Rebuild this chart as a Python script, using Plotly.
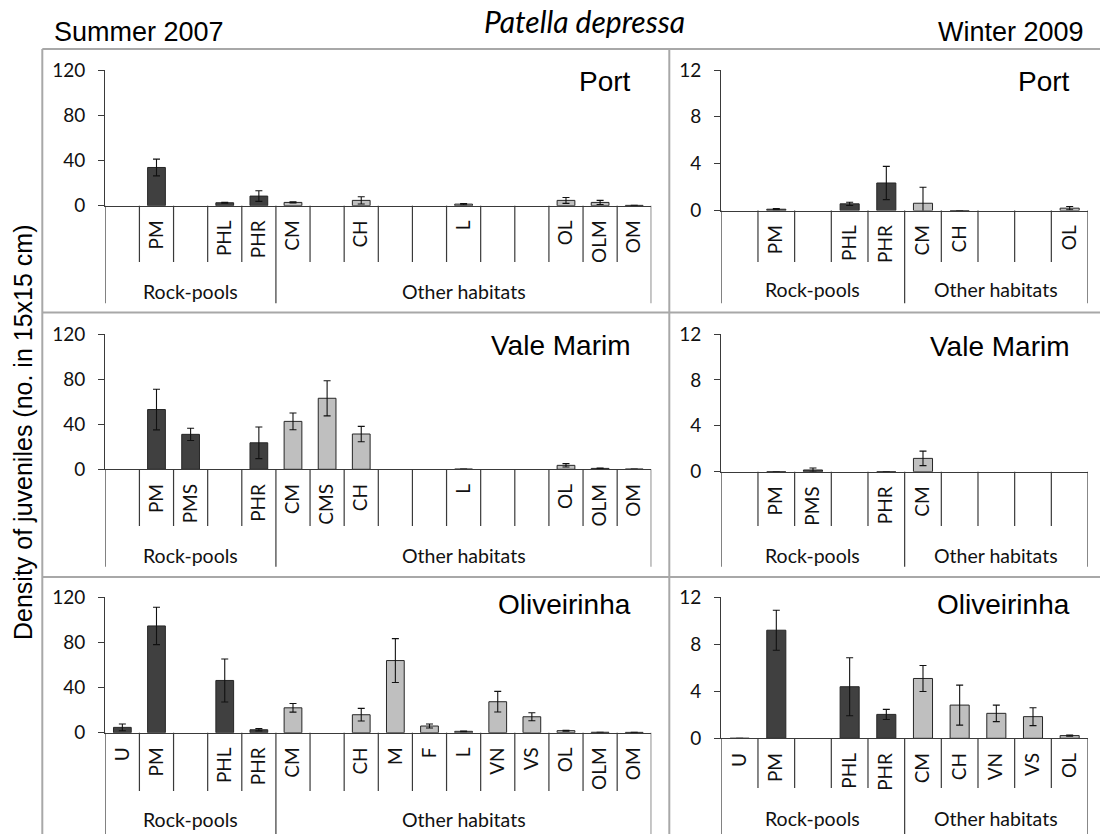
import plotly.graph_objects as go

W, H = 1100, 834

# ---------------- data ----------------
summer_port_labels = ["", "PM", "", "PHL", "PHR", "CM", "", "CH", "", "", "L", "", "", "OL", "OLM", "OM"]
summer_port_values = [None, 33.8, None, 2.6, 8.5, 2.9, None, 4.7, None, None, 1.4, None, None, 4.7, 2.9, 0.3]
summer_port_errors = [None, 7.4, None, 0.4, 4.7, 0.5, None, 3.2, None, None, 0.5, None, None, 2.6, 1.8, 0.0]

summer_vale_labels = ["", "PM", "PMS", "", "PHR", "CM", "CMS", "CH", "", "", "L", "", "", "OL", "OLM", "OM"]
summer_vale_values = [None, 53.0, 31.0, None, 23.5, 42.5, 63.0, 31.3, None, None, 0.2, None, None, 3.5, 0.8, 0.2]
summer_vale_errors = [None, 18.0, 5.4, None, 14.0, 7.4, 15.6, 6.8, None, None, 0.0, None, None, 1.5, 0.3, 0.0]

summer_oliv_labels = ["U", "PM", "", "PHL", "PHR", "CM", "", "CH", "M", "F", "L", "VN", "VS", "OL", "OLM", "OM"]
summer_oliv_values = [4.7, 94.4, None, 46.2, 2.6, 22.0, None, 15.9, 63.8, 5.9, 1.2, 27.4, 14.1, 1.8, 0.4, 0.3]
summer_oliv_errors = [3.0, 16.5, None, 19.0, 1.0, 3.8, None, 5.6, 19.4, 1.8, 0.3, 9.1, 3.5, 0.4, 0.0, 0.0]

winter_port_labels = ["", "PM", "", "PHL", "PHR", "CM", "CH", "", "", "OL"]
winter_port_values = [None, 0.11, None, 0.57, 2.35, 0.62, 0.0, None, None, 0.2]
winter_port_errors = [None, 0.05, None, 0.14, 1.42, 1.37, 0.0, None, None, 0.14]

winter_vale_labels = ["", "PM", "PMS", "", "PHR", "CM", "", "", "", ""]
winter_vale_values = [None, 0.0, 0.15, None, 0.0, 1.16, None, None, None, None]
winter_vale_errors = [None, 0.0, 0.17, None, 0.0, 0.63, None, None, None, None]

winter_oliv_labels = ["U", "PM", "", "PHL", "PHR", "CM", "CH", "VN", "VS", "OL"]
winter_oliv_values = [0.0, 9.18, None, 4.38, 2.03, 5.08, 2.82, 2.12, 1.84, 0.23]
winter_oliv_errors = [0.0, 1.7, None, 2.46, 0.43, 1.1, 1.7, 0.7, 0.76, 0.05]

summer_yticks = [0, 40, 80, 120]
winter_yticks = [0, 4, 8, 12]
site_names = ["Port", "Vale Marim", "Oliveirinha"]
group_names = ["Rock-pools", "Other habitats"]
n_rock_slots = 5
season_names = ["Summer 2007", "Winter 2009"]
species_name = "Patella depressa"
y_title = "Density of juveniles (no. in 15x15 cm)"

# ---------------- styling / geometry ----------------
DARK = "#404040"
LIGHT = "#bfbfbf"
AXC = "#3a3a3a"
FRAME = "#a8a8a8"
CAL = "Lato, Carlito, sans-serif"
ARIAL = "Liberation Sans, Arial, sans-serif"


def px(x):
    return x / W


def py(y):
    return 1 - y / H


cols = [
    dict(x0=105.3, x1=651.3, ymax=120, yticks=summer_yticks, site_x=633),
    dict(x0=721.3, x1=1088.0, ymax=12, yticks=winter_yticks, site_x=1072),
]
rows = [
    [dict(top=70, zero=205.7, td=262, gd=303.3, gl=291.5, sl=81),
     dict(top=70, zero=210.5, td=262, gd=303.3, gl=289, sl=81)],
    [dict(top=334, zero=469.3, td=526, gd=566.7, gl=555, sl=345),
     dict(top=334, zero=471.7, td=526, gd=566.7, gl=555, sl=346)],
    [dict(top=597, zero=732.7, td=791, gd=834, gl=819, sl=604),
     dict(top=597, zero=738.3, td=788, gd=834, gl=818, sl=604)],
]

panels = [
    (0, 0, summer_port_labels, summer_port_values, summer_port_errors),
    (1, 0, winter_port_labels, winter_port_values, winter_port_errors),
    (0, 1, summer_vale_labels, summer_vale_values, summer_vale_errors),
    (1, 1, winter_vale_labels, winter_vale_values, winter_vale_errors),
    (0, 2, summer_oliv_labels, summer_oliv_values, summer_oliv_errors),
    (1, 2, winter_oliv_labels, winter_oliv_values, winter_oliv_errors),
]

fig = go.Figure()
layout = dict(
    width=W, height=H, margin=dict(l=0, r=0, t=0, b=0, pad=0, autoexpand=False),
    paper_bgcolor="white", plot_bgcolor="rgba(0,0,0,0)",
    showlegend=False,
)
shapes = []
annotations = []

for i, (c, r, labels, values, errors) in enumerate(panels, start=1):
    cg = cols[c]
    rg = rows[r][c]
    n = len(labels)
    xs = [k for k in range(n) if values[k] is not None]
    ys = [values[k] for k in xs]
    es = [errors[k] for k in xs]
    colors = [DARK if k < n_rock_slots else LIGHT for k in xs]
    fig.add_trace(go.Bar(
        x=xs, y=ys, xaxis=f"x{i}", yaxis=f"y{i}", width=0.52,
        marker=dict(color=colors, line=dict(color="#262626", width=1)),
        error_y=dict(type="data", array=es, visible=True, color="#111111",
                     thickness=1.1, width=3.5),
        hoverinfo="skip",
    ))
    sfx = "" if i == 1 else str(i)
    layout[f"xaxis{sfx}"] = dict(
        domain=[px(cg["x0"]), px(cg["x1"])], range=[-0.5, n - 0.5],
        anchor=f"y{i}", tickmode="array", tickvals=list(range(n)), ticktext=labels,
        tickangle=-90, ticks="", showline=True, linecolor=AXC, linewidth=1.2,
        showgrid=False, zeroline=False, fixedrange=True, automargin=False,
        tickfont=dict(family=CAL, size=19, color="#111111"), ticklabelstandoff=6,
    )
    layout[f"yaxis{sfx}"] = dict(
        domain=[py(rg["zero"]), py(rg["top"])], range=[0, cg["ymax"]],
        anchor=f"x{i}", tickmode="array", tickvals=cg["yticks"],
        ticks="outside", ticklen=6, tickwidth=1.2, tickcolor=AXC,
        showline=True, linecolor=AXC, linewidth=1.2,
        showgrid=False, zeroline=False, fixedrange=True, automargin=False,
        tickfont=dict(family=CAL, size=19, color="#111111"), ticklabelstandoff=9,
    )
    for k in range(-1, n):
        xb = k + 0.5
        deep = (k == -1) or (k == n - 1) or (k == n_rock_slots - 1)
        shapes.append(dict(
            type="line", xref=f"x{i}", yref="paper", x0=xb, x1=xb,
            y0=py(rg["zero"]), y1=py(rg["gd"] if deep else rg["td"]),
            line=dict(color=AXC, width=1.2), layer="above",
        ))
    annotations.append(dict(
        xref=f"x{i}", yref="paper", x=(n_rock_slots - 1) / 2, y=py(rg["gl"]),
        text=group_names[0], showarrow=False, xanchor="center", yanchor="middle",
        font=dict(family=CAL, size=19.5, color="#111111"),
    ))
    annotations.append(dict(
        xref=f"x{i}", yref="paper", x=(n_rock_slots + n - 1) / 2, y=py(rg["gl"]),
        text=group_names[1], showarrow=False, xanchor="center", yanchor="middle",
        font=dict(family=CAL, size=19.5, color="#111111"),
    ))
    annotations.append(dict(
        xref="paper", yref="paper", x=px(cg["site_x"]), y=py(rg["sl"]),
        text=site_names[r], showarrow=False, xanchor="right", yanchor="middle",
        font=dict(family=ARIAL, size=28, color="#000000"),
    ))

for yy in (49, 312.5, 577):
    shapes.append(dict(type="line", xref="paper", yref="paper", x0=px(42.3), x1=1,
                       y0=py(yy), y1=py(yy), line=dict(color=FRAME, width=2)))
for xx in (42.3, 669.3):
    shapes.append(dict(type="line", xref="paper", yref="paper", x0=px(xx), x1=px(xx),
                       y0=py(49), y1=0, line=dict(color=FRAME, width=2)))

annotations.append(dict(
    xref="paper", yref="paper", x=px(584), y=py(21), text=f"<i>{species_name}</i>",
    showarrow=False, xanchor="center", yanchor="middle",
    font=dict(family=CAL, size=30, color="#000000"),
))
annotations.append(dict(
    xref="paper", yref="paper", x=px(52), y=py(32.5), text=season_names[0],
    showarrow=False, xanchor="left", yanchor="middle",
    font=dict(family=ARIAL, size=27, color="#000000"),
))
annotations.append(dict(
    xref="paper", yref="paper", x=px(1086), y=py(32), text=season_names[1],
    showarrow=False, xanchor="right", yanchor="middle",
    font=dict(family=ARIAL, size=27, color="#000000"),
))
annotations.append(dict(
    xref="paper", yref="paper", x=px(23), y=py(433), text=y_title, textangle=-90,
    showarrow=False, xanchor="center", yanchor="middle",
    font=dict(family=ARIAL, size=25, color="#000000"),
))

layout["shapes"] = shapes
layout["annotations"] = annotations
fig.update_layout(**layout)
fig.write_html("out.html")
